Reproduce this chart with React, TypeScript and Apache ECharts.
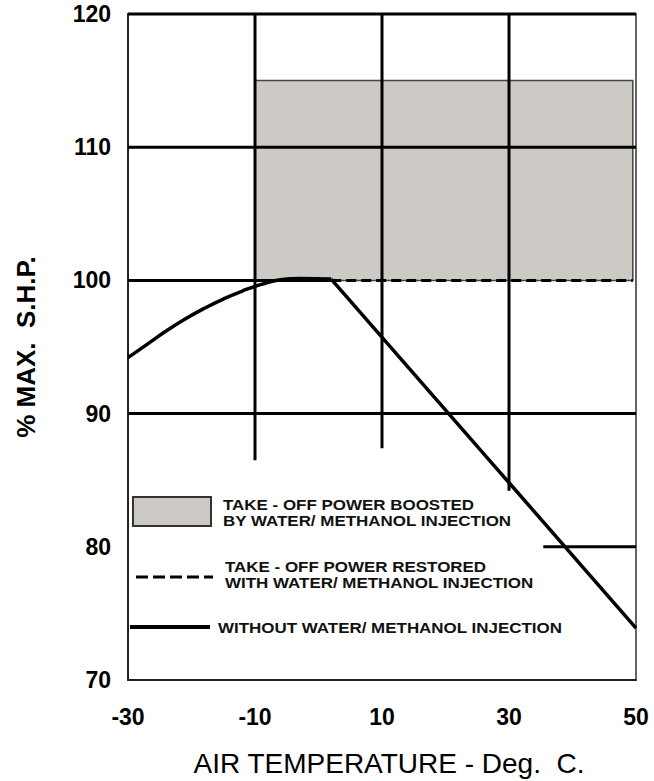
import React, { useEffect, useRef } from "react";
import * as echarts from "echarts";

// Axis ranges / ticks
const xMin = -30, xMax = 50, xStep = 20;
const yMin = 70, yMax = 120, yStep = 10;

// Power without water/methanol injection (curved part)
const curveTemps = [-30, -27, -24, -21, -18, -15, -12, -9, -6, -3, 2];
const curvePower = [94.2, 95.2, 96.2, 97.1, 97.9, 98.6, 99.2, 99.7, 100.05, 100.15, 100.1];
// Power without injection, straight lapse part
const lapseTemps = [2, 50];
const lapsePower = [100.1, 73.9];
// Power restored with injection (dashed)
const restoredTemps = [2, 49.5];
const restoredPower = [100, 100];
// Boosted region [xFrom, xTo, yFrom, yTo]
const boostedArea = [-10, 49.5, 100, 115.0];

// Grid lines drawn in chart (partial lengths as in the original)
const hGridY = [120, 110, 100, 90, 80];
const hGridFrom = [-30, -30, -30, -30, 35.4];
const hGridTo = [50, 50, 2, 50, 50];
const vGridX = [-10, 10, 30];
const vGridFrom = [86.5, 87.4, 84.2];
const vGridTo = [120, 120, 120];

const legendLabels = [
  "TAKE - OFF POWER BOOSTED\nBY WATER/ METHANOL INJECTION",
  "TAKE - OFF POWER RESTORED\nWITH WATER/ METHANOL INJECTION",
  "WITHOUT WATER/ METHANOL INJECTION",
];

const FONT = "'Liberation Sans', Arial, sans-serif";

export default function App() {
  const ref = useRef<HTMLDivElement>(null);
  useEffect(() => {
    if (!ref.current) return;
    const chart = echarts.init(ref.current, null, { renderer: "svg" });
    const gridSeries: any[] = [];
    hGridY.forEach((y, i) => {
      gridSeries.push({
        type: "line",
        data: [[hGridFrom[i], y], [hGridTo[i], y]],
        symbol: "none",
        silent: true,
        clip: false,
        z: 2,
        lineStyle: { color: "#000", width: 3 },
      });
    });
    vGridX.forEach((x, i) => {
      gridSeries.push({
        type: "line",
        data: [[x, vGridFrom[i]], [x, vGridTo[i]]],
        symbol: "none",
        silent: true,
        clip: false,
        z: 2,
        lineStyle: { color: "#000", width: 3 },
      });
    });
    const legendText = (x: number, y: number, text: string) => ({
      type: "text",
      x,
      y,
      scaleX: 1.13,
      z: 10,
      style: {
        text,
        font: `bold 15px ${FONT}`,
        lineHeight: 16,
        fill: "#111",
        verticalAlign: "top",
      },
    });
    chart.setOption({
      animation: false,
      backgroundColor: "#fff",
      grid: {
        left: 128,
        right: 18,
        top: 14,
        bottom: 101,
        outerBoundsMode: "none",
        containLabel: false,
        show: true,
        borderColor: "#333",
        borderWidth: 1.5,
      },
      xAxis: {
        type: "value",
        min: xMin,
        max: xMax,
        interval: xStep,
        name: "AIR TEMPERATURE - Deg.  C.",
        nameLocation: "middle",
        nameGap: 69,
        nameTextStyle: {
          fontFamily: FONT,
          fontSize: 28,
          color: "#000",
          padding: [0, 0, 0, 14],
        },
        axisLine: { show: true, onZero: false, lineStyle: { color: "#222", width: 2 } },
        axisTick: { show: false },
        splitLine: { show: false },
        axisLabel: {
          fontFamily: FONT,
          fontSize: 23,
          fontWeight: "bold",
          color: "#000",
          margin: 25,
        },
      },
      yAxis: {
        type: "value",
        min: yMin,
        max: yMax,
        interval: yStep,
        name: "% MAX.  S.H.P.",
        nameLocation: "middle",
        nameGap: 89,
        nameTextStyle: {
          fontFamily: FONT,
          fontSize: 26,
          fontWeight: "bold",
          color: "#000",
        },
        axisLine: { show: true, onZero: false, lineStyle: { color: "#222", width: 2 } },
        axisTick: { show: false },
        splitLine: { show: false },
        axisLabel: {
          fontFamily: FONT,
          fontSize: 23,
          fontWeight: "bold",
          color: "#000",
          margin: 17,
        },
      },
      series: [
        {
          type: "custom",
          z: 1,
          silent: true,
          data: [boostedArea],
          encode: { x: [0, 1], y: [2, 3] },
          renderItem: (params: any, api: any) => {
            const p1 = api.coord([api.value(0), api.value(3)]);
            const p2 = api.coord([api.value(1), api.value(2)]);
            return {
              type: "rect",
              shape: { x: p1[0], y: p1[1], width: p2[0] - p1[0], height: p2[1] - p1[1] },
              style: { fill: "#cdcac6", stroke: "#444", lineWidth: 1.5 },
            };
          },
        },
        ...gridSeries,
        {
          type: "line",
          data: restoredTemps.map((t, i) => [t, restoredPower[i]]),
          symbol: "none",
          silent: true,
          z: 3,
          lineStyle: { color: "#000", width: 3, type: [10, 5] },
        },
        {
          type: "line",
          data: curveTemps.map((t, i) => [t, curvePower[i]]),
          symbol: "none",
          smooth: 0.5,
          silent: true,
          z: 4,
          lineStyle: { color: "#000", width: 3.5 },
        },
        {
          type: "line",
          data: lapseTemps.map((t, i) => [t, lapsePower[i]]),
          symbol: "none",
          silent: true,
          z: 4,
          lineStyle: { color: "#000", width: 3.5 },
        },
      ],
      graphic: [
        {
          type: "rect",
          shape: { x: 133, y: 497, width: 78, height: 29 },
          style: { fill: "#cdcac6", stroke: "#333", lineWidth: 2 },
          z: 10,
        },
        {
          type: "line",
          shape: { x1: 136, y1: 577, x2: 213, y2: 577 },
          style: { stroke: "#000", lineWidth: 3, lineDash: [12, 5] },
          z: 10,
        },
        {
          type: "line",
          shape: { x1: 130, y1: 627, x2: 210, y2: 627 },
          style: { stroke: "#000", lineWidth: 4 },
          z: 10,
        },
        legendText(223, 497, legendLabels[0]),
        legendText(225, 559, legendLabels[1]),
        legendText(218, 620, legendLabels[2]),
      ],
    });
    return () => chart.dispose();
  }, []);
  return (
    <div
      ref={ref}
      style={{ position: "fixed", left: 0, top: 0, width: 654, height: 781, background: "#fff" }}
    />
  );
}
